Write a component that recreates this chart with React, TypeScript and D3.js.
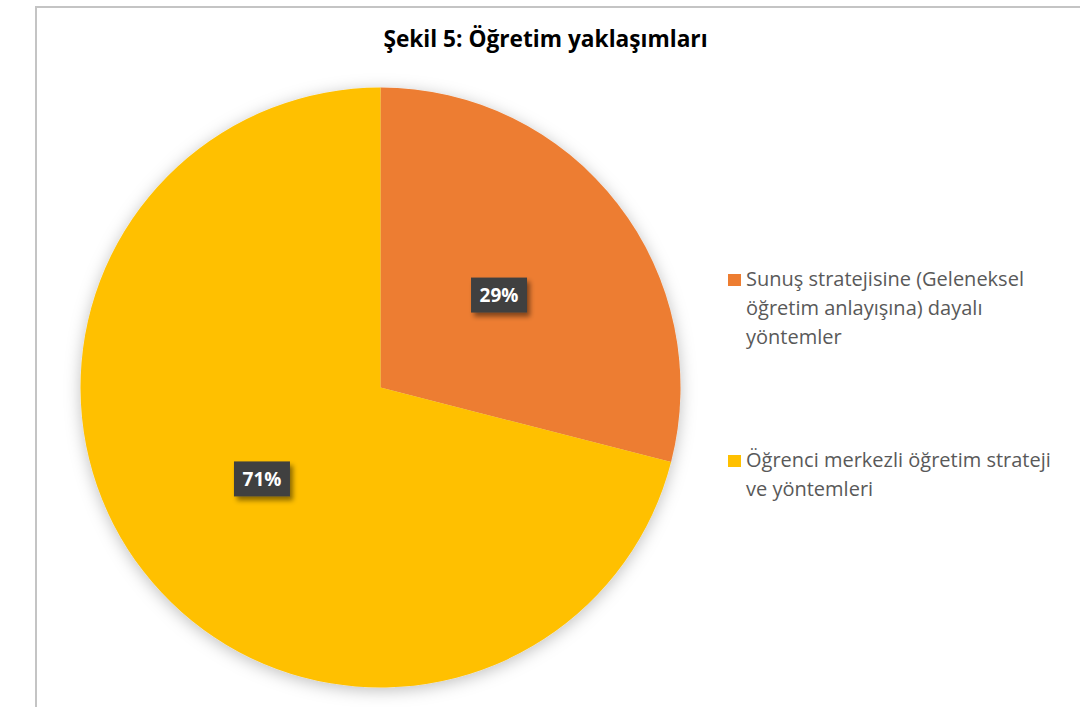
import React, { useEffect, useRef } from 'react';
import * as d3 from 'd3';

const categories = [
  'Sunuş stratejisine (Geleneksel öğretim anlayışına) dayalı yöntemler',
  'Öğrenci merkezli öğretim strateji ve yöntemleri',
];
const values = [29, 71];
const colors = ['#ED7D31', '#FFC000'];
// legend text already split in lines as in the picture
const legendLines = [
  ['Sunuş stratejisine (Geleneksel', 'öğretim anlayışına) dayalı', 'yöntemler'],
  ['Öğrenci merkezli öğretim strateji', 've yöntemleri'],
];
const title = 'Şekil 5: Öğretim yaklaşımları';

const App = () => {
  const svgRef = useRef<SVGSVGElement | null>(null);

  useEffect(() => {
    const width = 1080;
    const height = 707;
    const cx = 380.5;
    const cy = 387.5;
    const radius = 300;

    const svg = d3.select(svgRef.current)
      .attr('width', width)
      .attr('height', height);

    svg.selectAll('*').remove();

    const defs = svg.append('defs');
    const shadow = defs.append('filter')
      .attr('id', 'pieShadow')
      .attr('x', '-20%').attr('y', '-20%')
      .attr('width', '140%').attr('height', '140%');
    shadow.append('feDropShadow')
      .attr('dx', 0).attr('dy', 3)
      .attr('stdDeviation', 8)
      .attr('flood-color', '#000')
      .attr('flood-opacity', 0.25);

    const boxShadow = defs.append('filter')
      .attr('id', 'boxShadow')
      .attr('x', '-30%').attr('y', '-30%')
      .attr('width', '170%').attr('height', '170%');
    boxShadow.append('feDropShadow')
      .attr('dx', 3).attr('dy', 4)
      .attr('stdDeviation', 2.5)
      .attr('flood-color', '#000')
      .attr('flood-opacity', 0.45);

    // frame (top and left edge of the chart area)
    svg.append('path')
      .attr('d', `M36,${height} L36,7 L${width},7`)
      .attr('fill', 'none')
      .attr('stroke', '#c4c4c4')
      .attr('stroke-width', 2);

    // title
    svg.append('text')
      .attr('x', 545.5)
      .attr('y', 47)
      .attr('text-anchor', 'middle')
      .attr('font-family', 'Open Sans, sans-serif')
      .attr('font-weight', 'bold')
      .attr('font-size', 22.7)
      .attr('fill', '#000')
      .text(title);

    const pie = d3.pie<number>().sort(null).value(d => d);
    const arcs = pie(values);
    const arc = d3.arc<d3.PieArcDatum<number>>().innerRadius(0).outerRadius(radius);
    const labelArc = d3.arc<d3.PieArcDatum<number>>().innerRadius(radius * 0.5).outerRadius(radius * 0.5);

    const chart = svg.append('g')
      .attr('transform', `translate(${cx},${cy})`);

    chart.append('g')
      .attr('filter', 'url(#pieShadow)')
      .selectAll('path')
      .data(arcs)
      .enter()
      .append('path')
      .attr('d', arc)
      .attr('fill', (d, i) => colors[i]);

    const total = d3.sum(values);
    const fmt = d3.format('.0%');

    const labels = chart.selectAll('.lbl')
      .data(arcs)
      .enter()
      .append('g')
      .attr('class', 'lbl')
      .attr('transform', d => {
        const [x, y] = labelArc.centroid(d);
        return `translate(${x},${y})`;
      });

    labels.append('rect')
      .attr('x', -28)
      .attr('y', -18)
      .attr('width', 56)
      .attr('height', 35)
      .attr('fill', '#404040')
      .attr('filter', 'url(#boxShadow)');

    labels.append('text')
      .attr('text-anchor', 'middle')
      .attr('dy', '0.36em')
      .attr('font-family', 'Open Sans, sans-serif')
      .attr('font-weight', 'bold')
      .attr('font-size', 19)
      .attr('fill', '#fff')
      .text(d => fmt(d.data / total));

    // legend
    const legend = svg.append('g')
      .attr('transform', 'translate(728,0)');

    const legendBase = [286, 467];
    const lineH = 29;

    categories.forEach((c, i) => {
      const g = legend.append('g').attr('transform', `translate(0,${legendBase[i]})`);
      g.append('rect')
        .attr('x', 0)
        .attr('y', -12)
        .attr('width', 13)
        .attr('height', 12)
        .attr('fill', colors[i]);
      const t = g.append('text')
        .attr('font-family', 'Open Sans, sans-serif')
        .attr('font-size', 20)
        .attr('fill', '#595959');
      legendLines[i].forEach((line, j) => {
        t.append('tspan')
          .attr('x', 18)
          .attr('y', j * lineH)
          .text(line);
      });
    });
  }, []);

  return (
    <svg ref={svgRef} width={1080} height={707}
      style={{ position: 'absolute', left: 0, top: 0, background: '#fff' }} />
  );
};

export default App;
